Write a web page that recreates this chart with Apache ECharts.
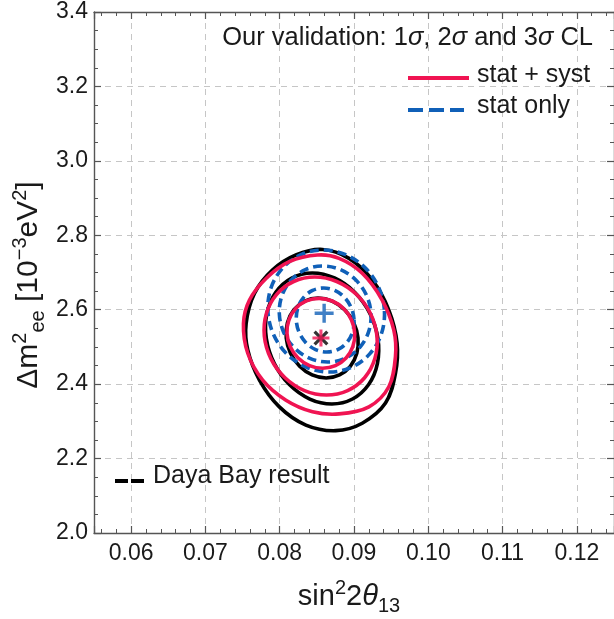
<!DOCTYPE html>
<html>
<head>
<meta charset="utf-8">
<script src="https://cdn.jsdelivr.net/npm/echarts@6/dist/echarts.min.js"></script>
<style>
html,body{margin:0;padding:0;background:#fff;}
#chart{width:614px;height:619px;}
</style>
</head>
<body>
<div id="chart"></div>
<script>
// ---- data (sin^2 2theta13, dm^2_ee [1e-3 eV^2]) ----
const xRange = [0.055, 0.125];
const yRange = [2.0, 3.4];

// Daya Bay result (black, solid)
const dayaBay1 = [[0.09054,2.524],[0.09038,2.4828],[0.08950,2.448],[0.08805,2.4247],[0.08625,2.4165],[0.08436,2.4247],[0.08268,2.448],[0.08145,2.4828],[0.08088,2.524],[0.08104,2.5652],[0.08192,2.600],[0.08337,2.6233],[0.08517,2.6315],[0.08706,2.6233],[0.08874,2.600],[0.08997,2.5652]];
const dayaBay2 = [[0.09322,2.5226],[0.09315,2.4552],[0.09195,2.3982],[0.08980,2.360],[0.08703,2.3466],[0.08405,2.360],[0.08133,2.3982],[0.07928,2.4552],[0.07820,2.5226],[0.07827,2.590],[0.07947,2.647],[0.08162,2.6852],[0.08439,2.6986],[0.08737,2.6852],[0.09009,2.647],[0.09214,2.590]];
const dayaBay3 = [[0.08575,2.762],[0.08218,2.747],[0.07905,2.707],[0.07660,2.644],[0.07548,2.563],[0.07570,2.492],[0.07727,2.411],[0.07995,2.339],[0.08352,2.290],[0.08754,2.275],[0.09111,2.295],[0.09424,2.349],[0.09558,2.429],[0.09580,2.510],[0.09469,2.599],[0.09245,2.680],[0.08933,2.738]];

// stat only (blue, dashed)
const statOnly1 = [[0.09001,2.5723],[0.08980,2.5394],[0.08902,2.5115],[0.08781,2.4928],[0.08634,2.4863],[0.08483,2.4928],[0.08352,2.5115],[0.08261,2.5394],[0.08223,2.5723],[0.08245,2.6052],[0.08322,2.6331],[0.08443,2.6518],[0.08591,2.6583],[0.08741,2.6518],[0.08872,2.6331],[0.08963,2.6052]];
const statOnly2 = [[0.09229,2.5884],[0.09194,2.539],[0.09071,2.4972],[0.08878,2.4692],[0.08644,2.4594],[0.08406,2.4692],[0.08199,2.4972],[0.08054,2.539],[0.07995,2.5884],[0.08030,2.6378],[0.08153,2.6796],[0.08346,2.7076],[0.08580,2.7174],[0.08819,2.7076],[0.09025,2.6796],[0.09170,2.6378]];
const statOnly3 = [[0.09410,2.5965],[0.09366,2.5337],[0.09209,2.4806],[0.08963,2.4451],[0.08666,2.4326],[0.08362,2.4451],[0.08099,2.4806],[0.07916,2.5337],[0.07841,2.5965],[0.07884,2.6593],[0.08042,2.7124],[0.08287,2.7479],[0.08584,2.7604],[0.08888,2.7479],[0.09151,2.7124],[0.09334,2.6593]];

// stat + syst (red, solid)
const statSyst1 = [[0.09010,2.5366],[0.08984,2.5006],[0.08893,2.4701],[0.08750,2.4497],[0.08578,2.4426],[0.08401,2.4497],[0.08248,2.4701],[0.08142,2.5006],[0.08098,2.5366],[0.08124,2.5726],[0.08215,2.6031],[0.08358,2.6235],[0.08531,2.6306],[0.08707,2.6235],[0.08860,2.6031],[0.08966,2.5726]];
const statSyst2 = [[0.09309,2.5293],[0.09281,2.4686],[0.09143,2.4172],[0.08914,2.3828],[0.08630,2.3708],[0.08334,2.3828],[0.08071,2.4172],[0.07881,2.4686],[0.07793,2.5293],[0.07821,2.590],[0.07959,2.6414],[0.08188,2.6758],[0.08472,2.6878],[0.08768,2.6758],[0.09031,2.6414],[0.09221,2.590]];
const statSyst3 = [[0.08508,2.747],[0.08129,2.729],[0.07816,2.684],[0.07593,2.626],[0.07512,2.563],[0.07570,2.483],[0.07771,2.411],[0.08084,2.357],[0.08441,2.326],[0.08799,2.320],[0.09201,2.339],[0.09469,2.393],[0.09558,2.474],[0.09536,2.545],[0.09379,2.626],[0.09111,2.698],[0.08799,2.738]];

// best-fit points
const bestFitDayaBay = [[0.08555, 2.5238]];
const bestFitStatOnly = [[0.08598, 2.5903]];

// texts
const xTickDecimals = 2;
const yTickDecimals = 1;
const headerText = 'Our validation: 1{it|σ}, 2{it|σ} and 3{it|σ} CL';
const legendTexts = ['stat + syst', 'stat only', 'Daya Bay result'];

// ---- styling ----
const FONT = '"Liberation Sans", Arial, sans-serif';
const RED = '#f01452';
const BLUE = '#1060b8';
const BLACK = '#000000';
const AXIS = '#555555';
const TXT = '#1a1a1a';

const PLUS = 'path://M0,4.1L4.1,4.1L4.1,0L5.9,0L5.9,4.1L10,4.1L10,5.9L5.9,5.9L5.9,10L4.1,10L4.1,5.9L0,5.9Z';

// closed smooth contour through the library's coordinate system
function contour(name, pts, color, dashed){
  return {
    type:'custom', name:name, coordinateSystem:'cartesian2d', xAxisIndex:0, yAxisIndex:0,
    data:pts, encode:{x:0, y:1}, silent:true, animation:false, z:3,
    renderItem:function(params, api){
      if (params.dataIndex !== 0) return {type:'group', children:[]};
      const points = pts.map(function(p){ return api.coord(p); });
      return {
        type:'polygon',
        shape:{points:points, smooth:0.35},
        style:{fill:'none', stroke:color, lineWidth:3.6, lineDash: dashed ? [9,5] : null, lineCap:'butt'}
      };
    }
  };
}

const chart = echarts.init(document.getElementById('chart'), null, {renderer:'canvas'});

const baseAxis = {
  type:'value', scale:true,
  axisLine:{show:true, onZero:false, lineStyle:{color:AXIS, width:1.4}},
  axisTick:{show:true, inside:true, length:7, lineStyle:{color:AXIS, width:1.2}},
};

const option = {
  animation:false,
  backgroundColor:'#ffffff',
  grid:{left:94, top:12, width:522, height:521, containLabel:false},
  xAxis:[
    Object.assign({}, baseAxis, {
      position:'bottom', min:xRange[0], max:xRange[1], splitNumber:7,
      minorTick:{show:true, splitNumber:5, length:4, lineStyle:{color:AXIS, width:1}},
      axisLabel:{show:true, margin:9, fontSize:23, color:TXT, fontFamily:FONT,
        showMinLabel:false, showMaxLabel:false,
        formatter:(v)=>v.toFixed(xTickDecimals)},
      splitLine:{show:true, lineStyle:{color:'#c6c6c6', type:[6,5], width:1}}
    }),
    Object.assign({}, baseAxis, {
      position:'top', min:xRange[0], max:xRange[1], splitNumber:7,
      minorTick:{show:true, splitNumber:5, length:4, lineStyle:{color:AXIS, width:1}},
      axisLabel:{show:false}, splitLine:{show:false}
    })
  ],
  yAxis:[
    Object.assign({}, baseAxis, {
      position:'left', min:yRange[0], max:yRange[1], interval:0.2,
      minorTick:{show:true, splitNumber:4, length:4, lineStyle:{color:AXIS, width:1}},
      axisLabel:{show:true, margin:6, fontSize:23, color:TXT, fontFamily:FONT,
        formatter:(v)=>v.toFixed(yTickDecimals)},
      splitLine:{show:true, lineStyle:{color:'#c6c6c6', type:[6,5], width:1}}
    }),
    Object.assign({}, baseAxis, {
      position:'right', min:yRange[0], max:yRange[1], interval:0.2,
      minorTick:{show:true, splitNumber:4, length:4, lineStyle:{color:AXIS, width:1}},
      axisLabel:{show:false}, splitLine:{show:false}
    })
  ],
  series:[
    contour('Daya Bay 3σ', dayaBay3, BLACK, false),
    contour('Daya Bay 2σ', dayaBay2, BLACK, false),
    contour('Daya Bay 1σ', dayaBay1, BLACK, false),
    contour('stat only 3σ', statOnly3, BLUE, true),
    contour('stat only 2σ', statOnly2, BLUE, true),
    contour('stat only 1σ', statOnly1, BLUE, true),
    contour('stat+syst 3σ', statSyst3, RED, false),
    contour('stat+syst 2σ', statSyst2, RED, false),
    contour('stat+syst 1σ', statSyst1, RED, false),
    {type:'scatter', data:bestFitStatOnly, symbol:PLUS, symbolSize:19, itemStyle:{color:BLUE}, z:5, silent:true},
    {type:'scatter', data:bestFitDayaBay, symbol:PLUS, symbolSize:18, symbolRotate:45, itemStyle:{color:BLACK}, z:5, silent:true},
    {type:'scatter', data:bestFitDayaBay, symbol:PLUS, symbolSize:17, itemStyle:{color:RED}, z:6, silent:true}
  ],
  graphic:[
    {type:'text', right:21, top:25, z:10, style:{text:headerText, fill:TXT, font:'25.5px '+FONT,
      rich:{it:{fontStyle:'italic', fontSize:25.5, fontFamily:FONT, fill:TXT}}}},
    {type:'line', z:10, shape:{x1:408, y1:78, x2:469, y2:78}, style:{stroke:RED, lineWidth:4}},
    {type:'text', left:477, top:63, z:10, style:{text:legendTexts[0], fill:TXT, font:'25px '+FONT}},
    {type:'line', z:10, shape:{x1:408, y1:110, x2:464, y2:110}, style:{stroke:BLUE, lineWidth:4, lineDash:[15,6]}},
    {type:'text', left:477, top:94, z:10, style:{text:legendTexts[1], fill:TXT, font:'25px '+FONT}},
    {type:'line', z:10, shape:{x1:115, y1:481, x2:144, y2:481}, style:{stroke:BLACK, lineWidth:4, lineDash:[13,3]}},
    {type:'text', left:153, top:464, z:10, style:{text:legendTexts[2], fill:TXT, font:'25px '+FONT}},
    // x-axis title
    {type:'text', z:10, x:349, y:597, style:{
      text:'{a|sin}{sup|2}{a|2}{it|θ}{sub|13}', align:'center', verticalAlign:'middle',
      rich:{
        a:{fontSize:29, fontFamily:FONT, fill:TXT, lineHeight:38},
        it:{fontSize:29, fontFamily:FONT, fontStyle:'italic', fill:TXT, lineHeight:38},
        sup:{fontSize:20, fontFamily:FONT, fill:TXT, lineHeight:20, verticalAlign:'top'},
        sub:{fontSize:20, fontFamily:FONT, fill:TXT, lineHeight:20, verticalAlign:'bottom'}
      }}},
    // y-axis title
    {type:'text', z:10, x:29, y:285, rotation:Math.PI/2, style:{
      text:'{a|Δm}{sup|2}{sub|ee}{a| [10}{sup|−3}{a|eV}{sup|2}{a|]}', align:'center', verticalAlign:'middle',
      rich:{
        a:{fontSize:30, fontFamily:FONT, fill:TXT, lineHeight:38},
        sup:{fontSize:20, fontFamily:FONT, fill:TXT, lineHeight:20, verticalAlign:'top'},
        sub:{fontSize:20, fontFamily:FONT, fill:TXT, lineHeight:20, verticalAlign:'bottom'}
      }}}
  ]
};
chart.setOption(option);
</script>
</body>
</html>
